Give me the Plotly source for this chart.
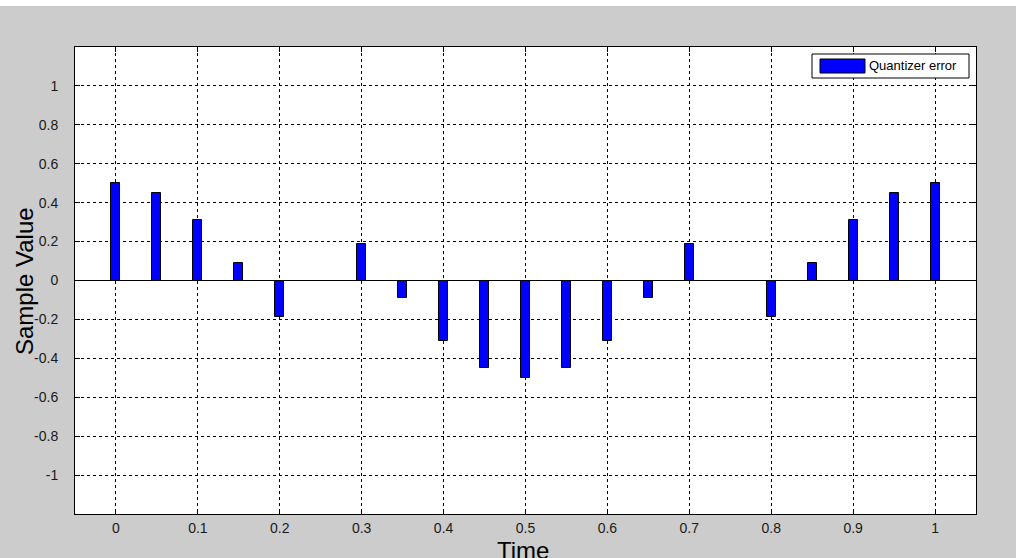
import plotly.graph_objects as go

time = [0.0, 0.05, 0.1, 0.15, 0.2, 0.25, 0.3, 0.35, 0.4, 0.45, 0.5,
        0.55, 0.6, 0.65, 0.7, 0.75, 0.8, 0.85, 0.9, 0.95, 1.0]
error = [0.5, 0.45, 0.31, 0.09, -0.19, 0.0, 0.19, -0.09, -0.31, -0.45, -0.5,
         -0.45, -0.31, -0.09, 0.19, 0.0, -0.19, 0.09, 0.31, 0.45, 0.5]
x_ticks = [0, 0.1, 0.2, 0.3, 0.4, 0.5, 0.6, 0.7, 0.8, 0.9, 1]
x_labels = ["0", "0.1", "0.2", "0.3", "0.4", "0.5", "0.6", "0.7", "0.8", "0.9", "1"]
y_ticks = [-1, -0.8, -0.6, -0.4, -0.2, 0, 0.2, 0.4, 0.6, 0.8, 1]
y_labels = ["-1", "-0.8", "-0.6", "-0.4", "-0.2", "0", "0.2", "0.4", "0.6", "0.8", "1"]
legend_label = "Quantizer error"
x_title = "Time"
y_title = "Sample Value"

font = "Liberation Sans, Arial, sans-serif"
L, R, T, B = 75, 40, 47, 44
PW, PH = 1016 - L - R, 558 - T - B


def px(x):
    return (x - L) / PW


def py(y):
    return (558 - B - y) / PH


fig = go.Figure()
fig.add_trace(go.Bar(
    x=time, y=error, width=0.011, name=legend_label,
    marker=dict(color="#0000FF", line=dict(color="black", width=1)),
    showlegend=False,
))

axis_common = dict(
    showline=True, linecolor="black", linewidth=1, mirror="ticks",
    ticks="inside", ticklen=5, tickcolor="black", automargin=False,
    showgrid=True, gridcolor="black", gridwidth=1, griddash="3px,3px",
    tickfont=dict(family=font, size=14, color="#1a1a1a"),
)

fig.update_xaxes(
    range=[-0.05, 1.05], tickvals=x_ticks, ticktext=x_labels,
    zeroline=False, ticklabelstandoff=1,
    **axis_common,
)
fig.update_yaxes(
    range=[-1.2, 1.2], tickvals=y_ticks, ticktext=y_labels,
    zeroline=True, zerolinecolor="black", zerolinewidth=1, ticklabelstandoff=13,
    **axis_common,
)

shapes = [
    # white strip at top of the window
    dict(type="rect", xref="paper", yref="paper", x0=-0.1, x1=1.1,
         y0=py(6), y1=py(-20), fillcolor="white", line=dict(width=0), layer="below"),
    # legend box
    dict(type="rect", xref="paper", yref="paper",
         x0=px(812), x1=px(969), y0=py(78), y1=py(54),
         fillcolor="white", line=dict(color="black", width=1)),
    # legend swatch
    dict(type="rect", xref="paper", yref="paper",
         x0=px(820), x1=px(865), y0=py(73), y1=py(59),
         fillcolor="#0000FF", line=dict(color="black", width=1)),
]

annotations = [
    dict(text=legend_label, xref="paper", yref="paper",
         x=px(867), y=py(66), xanchor="left", yanchor="middle",
         showarrow=False, font=dict(family=font, size=13, color="black")),
    dict(text=x_title, xref="paper", yref="paper",
         x=px(523), y=py(535), xanchor="center", yanchor="top",
         showarrow=False, font=dict(family=font, size=24, color="black")),
    dict(text=y_title, xref="paper", yref="paper", textangle=-90,
         x=px(24), y=py(281), xanchor="center", yanchor="middle",
         showarrow=False, font=dict(family=font, size=24, color="black")),
]

fig.update_layout(
    width=1016, height=558,
    margin=dict(l=L, r=R, t=T, b=B),
    paper_bgcolor="#CCCCCC", plot_bgcolor="white",
    bargap=0,
    shapes=shapes,
    annotations=annotations,
)

fig.write_html("out.html", config={"displayModeBar": False},
               post_script="document.body.style.margin='0px';")
